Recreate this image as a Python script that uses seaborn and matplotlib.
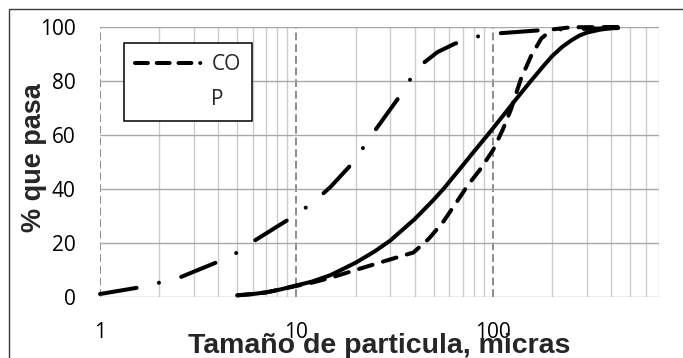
import numpy as np
import pandas as pd
import seaborn as sns
import matplotlib
matplotlib.use("Agg")
import matplotlib.pyplot as plt
from matplotlib.lines import Line2D
from matplotlib.patches import Rectangle
from matplotlib.ticker import FixedLocator, FixedFormatter, NullFormatter

# Curvas granulométricas: tamaño de partícula (micras) vs % que pasa
cop_tam = [1, 1.6, 2, 2.6, 4, 5, 6, 9, 11, 13, 14.9, 18.5, 21.6, 24.8, 32.6,
           37.1, 42.8, 52.2, 63.9, 80.9, 100, 190.7, 433]
cop_pasa = [1.0, 3.5, 5.2, 7.4, 13.0, 16.4, 20.4, 28.4, 32.7, 36.8, 40.7, 48.1,
            54.7, 61.1, 73.1, 79.6, 85.8, 90.7, 93.8, 96.3, 97.5, 99.0, 99.6]

solida_tam = [5, 6, 7, 8.3, 10, 12, 14.9, 20, 25, 30, 40, 50, 56.5, 70, 80,
              94, 110, 130, 156, 183, 200, 225, 250, 275, 300, 350, 400, 433]
solida_pasa = [0.5, 1.0, 1.6, 2.7, 4.2, 5.6, 8.0, 12.6, 16.8, 20.8, 28.8, 36.0,
               40.3, 48.6, 53.8, 60.0, 66.2, 72.9, 80.0, 86.0, 89.2, 92.6,
               95.0, 96.8, 97.9, 99.0, 99.6, 99.8]

trazos_tam = [5, 6, 7, 8.3, 10, 12, 14.9, 20, 28.4, 39.4, 47.3, 55.5, 65.5,
              74.6, 85.5, 100, 111.8, 123, 139, 156, 176, 200, 250, 430]
trazos_pasa = [0.5, 1.0, 1.6, 2.7, 4.0, 5.2, 7.0, 9.9, 13.3, 16.4, 21.6, 27.5,
               35.2, 41.4, 46.9, 54.3, 61.7, 69.1, 80.9, 89.1, 95.7, 99.1,
               99.9, 100.0]

x_ticks = [1, 10, 100]
x_tick_labels = ["1", "10", "100"]
y_ticks = [0, 20, 40, 60, 80, 100]

sns.set_style("white")
plt.rcParams["font.family"] = ["Open Sans", "DejaVu Sans"]

fig = plt.figure(figsize=(6.83, 3.58), dpi=100)
ax = fig.add_axes([100 / 683, (358 - 296.7) / 358, 559 / 683, 269.7 / 358])

df_cop = pd.DataFrame({"tam": cop_tam, "pasa": cop_pasa})
df_sol = pd.DataFrame({"tam": solida_tam, "pasa": solida_pasa})
df_tr = pd.DataFrame({"tam": trazos_tam, "pasa": trazos_pasa})

LW = 2.9
sns.lineplot(data=df_cop, x="tam", y="pasa", ax=ax, color="black", lw=LW,
             linestyle=(0, (9.2, 5.7, 0.01, 5.7)), dash_capstyle="round",
             clip_on=False, legend=False, sort=False)
sns.lineplot(data=df_sol, x="tam", y="pasa", ax=ax, color="black", lw=LW,
             solid_capstyle="round", solid_joinstyle="round",
             clip_on=False, legend=False, sort=False)
sns.lineplot(data=df_tr, x="tam", y="pasa", ax=ax, color="black", lw=LW,
             linestyle=(0, (3.5, 2.7)), dash_capstyle="round",
             clip_on=False, legend=False, sort=False)

ax.set_xscale("log")
ax.set_xlim(1, 700)
ax.set_ylim(0, 100)

ax.xaxis.set_major_locator(FixedLocator(x_ticks))
ax.xaxis.set_major_formatter(FixedFormatter(x_tick_labels))
minor = [m * d for d in (1, 10, 100) for m in range(2, 10) if m * d <= 700]
ax.xaxis.set_minor_locator(FixedLocator(minor))
ax.xaxis.set_minor_formatter(NullFormatter())
ax.set_yticks(y_ticks)
ax.set_yticklabels([str(v) for v in y_ticks])

for s in ax.spines.values():
    s.set_visible(False)

ax.set_axisbelow(True)
ax.grid(which="major", axis="y", color="#a8a8a8", lw=1.0, ls="-")
ax.grid(which="minor", axis="x", color="#cccccc", lw=1.0, ls="-")
ax.grid(which="major", axis="x", color="#8c8c8c", lw=1.4, ls=(0, (4, 2)))

ax.tick_params(axis="x", which="both", direction="out", length=4.3, width=1,
               color="#8c8c8c", labelsize=15, pad=14, labelcolor="black")
ax.tick_params(axis="y", which="major", direction="out", length=6.5, width=1,
               color="#a8a8a8", labelsize=15, pad=11, labelcolor="black")

ax.set_xlabel("Tamaño de particula, micras", family="Liberation Sans",
              weight="bold", fontsize=20.5, va="center")
ax.xaxis.set_label_coords(0.5, -0.183)
ax.set_ylabel("% que pasa", family="Liberation Sans", weight="bold",
              fontsize=19.5, va="center")
ax.yaxis.set_label_coords(-0.118, 0.515)

handle_cop = Line2D([], [], color="black", lw=LW, dash_capstyle="round",
                    linestyle=(0, (3.2, 2.2, 3.2, 2.2, 3.2, 2.2, 0.01, 2.2)))
handle_vacio = Line2D([], [], linestyle="none")
leg = ax.legend([handle_cop, handle_vacio], ["CO", "P"], loc="upper left",
                bbox_to_anchor=(0.0429, 0.9407), borderaxespad=0,
                fontsize=15, handlelength=3.3, handletextpad=0.34,
                labelspacing=0.63, borderpad=0.55, fancybox=False,
                framealpha=1, edgecolor="black")
leg.get_frame().set_linewidth(1.1)

# marco exterior del área del gráfico
fig.patches.append(Rectangle((9 / 683, -0.2), 1.2, 1.2 - 9 / 358,
                             transform=fig.transFigure, fill=False,
                             edgecolor="#3a3a3a", lw=1.0))

fig.savefig("out.png", dpi=100)
